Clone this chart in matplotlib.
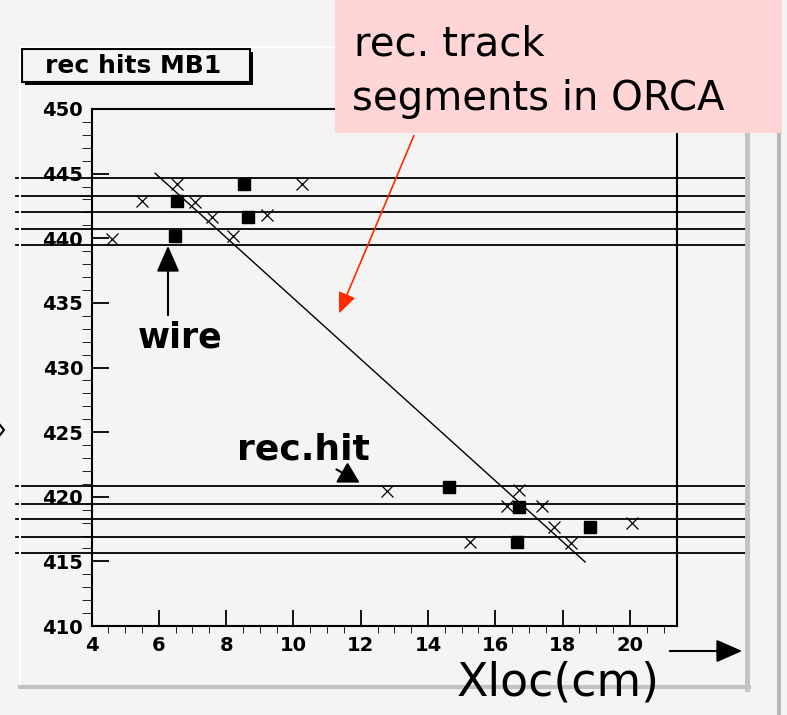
import matplotlib.pyplot as plt
from matplotlib.lines import Line2D
from matplotlib.patches import Rectangle
from matplotlib.ticker import MultipleLocator

plt.rcParams['font.family'] = ['DejaVu Sans']

# drift-tube wire layers (local y, cm)
wires_top = [444.65, 443.26, 442.02, 440.70, 439.47]
wires_bot = [420.83, 419.46, 418.25, 416.88, 415.67]
wire_xrange = [1.76, 23.54]

# rec hits (crosses) and wire positions (squares)
cross_x = [4.60, 5.49, 6.53, 7.08, 7.57, 8.21, 9.21, 10.25,
           12.77, 15.25, 16.34, 16.71, 17.38, 17.75, 18.24, 20.05]
cross_y = [439.98, 442.87, 444.18, 442.77, 441.61, 440.16, 441.79, 444.18,
           420.44, 416.47, 419.28, 420.52, 419.28, 417.68, 416.39, 417.94]
square_x = [6.48, 6.53, 8.53, 8.64, 14.62, 16.64, 16.70, 18.81]
square_y = [440.19, 442.89, 444.18, 441.61, 420.73, 416.52, 419.23, 417.63]

# reconstructed track segment
track_x = [5.89, 18.67]
track_y = [445.03, 414.95]

W, H = 787, 715
bg = '#f4f4f4'

fig = plt.figure(figsize=(W / 100, H / 100), dpi=100, facecolor=bg)


def fx(x):
    return x / W


def fy(y):
    return 1 - y / H


# ROOT-style panel bevel
fig.add_artist(Line2D([fx(20), fx(20)], [fy(47), fy(687)], color='white', lw=1.5))
fig.add_artist(Line2D([fx(20), fx(747)], [fy(47), fy(47)], color='white', lw=1.5))
fig.add_artist(Line2D([fx(20), fx(749)], [fy(687), fy(687)], color='#c2c2c2', lw=3))
fig.add_artist(Line2D([fx(747), fx(747)], [fy(47), fy(689)], color='#c2c2c2', lw=3.5))
fig.add_artist(Line2D([fx(779), fx(779)], [0, 1], color='#b8b8b8', lw=3))

ax = fig.add_axes([fx(91.5), fy(626), (677 - 91.5) / W, (626 - 109) / H])
ax.set_facecolor(bg)
ax.set_xlim(4, 21.4)
ax.set_ylim(410, 450)

for y in wires_top + wires_bot:
    ax.plot(wire_xrange, [y, y], color='black', lw=1.3, clip_on=False, zorder=3)

ax.plot(track_x, track_y, color='black', lw=1.0, zorder=4)
ax.plot(cross_x, cross_y, 'x', color='black', ms=8, mew=0.9, ls='none', zorder=5)
ax.plot(square_x, square_y, 's', color='black', ms=8, ls='none', zorder=5)

for s in ax.spines.values():
    s.set_linewidth(1.5)

ax.xaxis.set_major_locator(MultipleLocator(2))
ax.xaxis.set_minor_locator(MultipleLocator(0.5))
ax.yaxis.set_major_locator(MultipleLocator(5))
ax.yaxis.set_minor_locator(MultipleLocator(1))
ax.set_xticks([4, 6, 8, 10, 12, 14, 16, 18, 20])
ax.tick_params(direction='in', width=1.3, labelsize=14, top=False, right=False)
ax.tick_params(axis='x', which='major', length=11.5, pad=7)
ax.tick_params(axis='x', which='minor', length=5)
ax.tick_params(axis='y', which='major', length=12.5, pad=6)
ax.tick_params(axis='y', which='minor', length=7)
for lab in ax.get_xticklabels() + ax.get_yticklabels():
    lab.set_fontweight('bold')

# title box "rec hits MB1"
fig.add_artist(Rectangle((fx(25), fy(85)), 228 / W, 33 / H, color='black', lw=0))
fig.add_artist(Rectangle((fx(22), fy(82)), 228 / W, 33 / H, facecolor=bg,
                         edgecolor='black', lw=1.5))
fig.text(fx(133), fy(66), 'rec hits MB1', ha='center', va='center',
         fontsize=18, fontweight='bold')

# pink callout
fig.add_artist(Rectangle((fx(335), fy(133)), (782 - 335) / W, 133 / H,
                         facecolor='#ffd5d5', edgecolor='none', zorder=10))
fig.text(fx(354), fy(55), 'rec. track', fontsize=29, va='baseline', zorder=11)
fig.text(fx(352), fy(110), 'segments in ORCA', fontsize=29, va='baseline', zorder=11)
ax.annotate('', xy=(338, H - 316), xytext=(415, H - 133),
            xycoords='figure pixels', textcoords='figure pixels',
            arrowprops=dict(arrowstyle='-|>,head_length=0.7,head_width=0.3',
                            mutation_scale=18, color='#ff2a00', lw=1.2))

# wire label
fig.text(fx(180), fy(348), 'wire', ha='center', va='baseline',
         fontsize=25, fontweight='bold')
ax.annotate('', xy=(168, H - 243), xytext=(168, H - 318),
            xycoords='figure pixels', textcoords='figure pixels',
            arrowprops=dict(arrowstyle='-|>,head_length=0.8,head_width=0.35',
                            mutation_scale=20, color='black', lw=1.5))

# rec.hit label
fig.text(fx(303), fy(460), 'rec.hit', ha='center', va='baseline',
         fontsize=26, fontweight='bold')
ax.annotate('', xy=(362, H - 484), xytext=(334, H - 468),
            xycoords='figure pixels', textcoords='figure pixels',
            arrowprops=dict(arrowstyle='-|>,head_length=0.7,head_width=0.4',
                            mutation_scale=18, color='black', lw=1.5))

# x axis label
fig.text(fx(558), fy(695), 'Xloc(cm)', ha='center', va='baseline', fontsize=33)
ax.annotate('', xy=(745, H - 651), xytext=(667, H - 651),
            xycoords='figure pixels', textcoords='figure pixels',
            arrowprops=dict(arrowstyle='-|>,head_length=0.8,head_width=0.35',
                            mutation_scale=20, color='black', lw=1.5))

# stray arrow tip at the left edge
fig.add_artist(Line2D([fx(0), fx(4), fx(0)], [fy(425), fy(430), fy(435)],
                      color='black', lw=1.5))

fig.savefig('out.png', dpi=100, facecolor=bg)
